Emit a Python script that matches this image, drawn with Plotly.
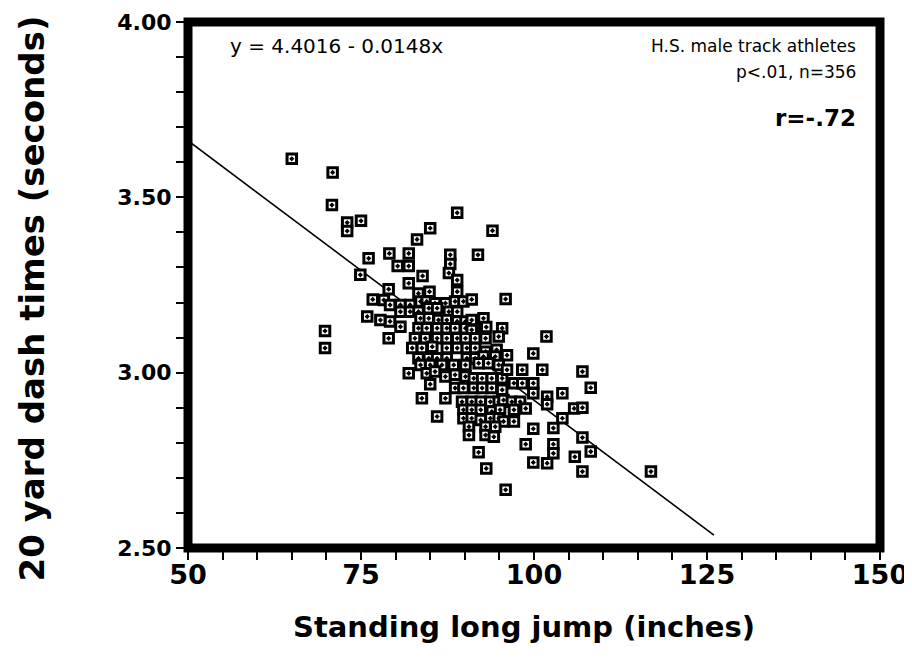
import plotly.graph_objects as go

# Standing long jump (inches) and 20 yard dash time (seconds)
jump_in = [
    65.0, 70.9, 70.8, 73.0, 75.0, 73.0, 69.8, 69.8, 74.9, 76.1, 75.9, 76.7, 78.3, 77.8,
    83.1, 85.0, 88.9, 94.0, 79.1, 81.9, 80.3, 81.9, 87.9, 87.9, 87.7, 91.9, 83.9, 81.9, 88.9, 88.9, 79.0, 84.9, 83.3, 95.9,
    79.2, 80.7, 82.1, 83.6, 84.5, 85.7, 87.2, 88.6, 89.8, 91.0,
    80.7, 82.1, 83.3, 84.8, 86.0, 87.7, 88.9,
    79.2, 80.7, 83.6, 84.8, 86.2, 87.4, 88.9, 90.1, 91.0, 92.7,
    83.3, 84.5, 86.0, 87.4, 88.6, 90.1, 91.0, 92.7, 95.4, 93.1,
    79.0, 82.8, 84.3, 86.0, 87.4, 88.9, 90.1, 91.5, 93.0, 94.9, 101.8,
    82.4, 83.8, 85.3, 87.4, 88.9, 90.3, 91.5, 93.0, 94.6,
    83.3, 84.8, 86.0, 87.4, 90.3, 91.5, 92.7, 94.4, 96.1, 99.9,
    83.6, 85.0, 86.7, 88.4, 90.1, 92.0, 93.4, 94.9,
    81.9, 84.5, 85.7, 87.2, 88.6, 90.1, 91.3, 92.5, 93.9, 95.4, 96.1, 98.3, 101.2, 107.0,
    85.0, 88.6, 89.8, 91.3, 92.5, 93.9, 95.4, 97.1, 98.3, 99.9, 108.2,
    83.8, 87.2, 89.6, 91.0, 92.3, 93.7, 94.9, 95.6, 96.8, 98.0, 99.9, 101.9, 104.1,
    89.8, 91.0, 92.3, 93.9, 95.1, 97.1, 98.8, 101.9, 105.8, 107.0,
    86.0, 89.8, 91.0, 92.3, 93.7, 94.9, 95.6, 97.1, 104.1,
    90.6, 93.0, 94.4, 99.9, 102.8,
    90.6, 93.0, 94.2, 107.0,
    98.8, 102.8, 102.8, 92.0, 108.2, 105.9, 99.9, 101.9, 93.1, 107.0, 116.9, 95.9,
]
dash_s = [
    3.610, 3.571, 3.478, 3.428, 3.433, 3.404, 3.119, 3.070, 3.279, 3.326, 3.160, 3.209, 3.207, 3.150,
    3.380, 3.412, 3.456, 3.405, 3.340, 3.340, 3.304, 3.304, 3.336, 3.310, 3.284, 3.336, 3.276, 3.255, 3.264, 3.231, 3.238, 3.231, 3.226, 3.210,
    3.193, 3.193, 3.193, 3.203, 3.203, 3.198, 3.198, 3.203, 3.203, 3.209,
    3.174, 3.174, 3.174, 3.184, 3.184, 3.174, 3.174,
    3.146, 3.131, 3.155, 3.155, 3.150, 3.150, 3.146, 3.146, 3.150, 3.155,
    3.127, 3.127, 3.127, 3.127, 3.127, 3.127, 3.122, 3.127, 3.127, 3.130,
    3.098, 3.098, 3.098, 3.098, 3.098, 3.098, 3.098, 3.098, 3.098, 3.103, 3.103,
    3.070, 3.070, 3.074, 3.070, 3.070, 3.070, 3.070, 3.060, 3.065,
    3.041, 3.041, 3.041, 3.041, 3.041, 3.041, 3.046, 3.046, 3.050, 3.055,
    3.022, 3.022, 3.022, 3.022, 3.022, 3.027, 3.027, 3.022,
    2.998, 2.998, 3.003, 2.989, 2.994, 2.989, 2.984, 2.984, 2.984, 2.984, 3.008, 3.008, 3.008, 3.003,
    2.967, 2.956, 2.956, 2.956, 2.956, 2.956, 2.951, 2.970, 2.970, 2.970, 2.957,
    2.927, 2.927, 2.917, 2.917, 2.917, 2.917, 2.917, 2.922, 2.917, 2.917, 2.941, 2.931, 2.941,
    2.894, 2.894, 2.894, 2.889, 2.894, 2.894, 2.898, 2.910, 2.898, 2.900,
    2.875, 2.870, 2.870, 2.865, 2.870, 2.870, 2.861, 2.861, 2.870,
    2.846, 2.846, 2.846, 2.840, 2.842,
    2.822, 2.822, 2.817, 2.815,
    2.796, 2.796, 2.770, 2.773, 2.775, 2.760, 2.744, 2.742, 2.727, 2.718, 2.718, 2.666,
]

# Regression line y = 4.4016 - 0.0148x
intercept = 4.4016
slope = -0.0148
line_x = [50, 126]
line_y = [intercept + slope * v for v in line_x]

x_ticks = [50, 75, 100, 125, 150]
y_ticks = [2.5, 3.0, 3.5, 4.0]
y_tick_text = ["2.50", "3.00", "3.50", "4.00"]

fig = go.Figure()
fig.add_trace(go.Scatter(
    x=line_x, y=line_y, mode="lines",
    line=dict(color="black", width=1.6), hoverinfo="skip",
))
fig.add_trace(go.Scatter(
    x=jump_in, y=dash_s, mode="markers",
    marker=dict(symbol="square-dot", size=9.5, color="white",
                line=dict(color="black", width=3)),
))

tick_font_y = dict(family="DejaVu Sans", size=22, color="black", weight="bold")
tick_font_x = dict(family="DejaVu Sans", size=27, color="black", weight="bold")
small_font = dict(family="DejaVu Sans", size=17, color="black")

fig.update_layout(
    width=912, height=667,
    margin=dict(l=180, r=40, t=14, b=127, autoexpand=False),
    paper_bgcolor="white", plot_bgcolor="white",
    showlegend=False,
    xaxis=dict(
        range=[50, 150], showgrid=False, zeroline=False, showline=False,
        tickmode="array", tickvals=x_ticks, ticktext=[str(v) for v in x_ticks],
        ticks="outside", ticklen=11, tickwidth=1.6, tickcolor="black",
        minor=dict(dtick=5, ticks="outside", ticklen=11, tickwidth=1.6, tickcolor="black"),
        tickfont=tick_font_x, ticklabelstandoff=-8,
    ),
    yaxis=dict(
        range=[2.5, 4.0], showgrid=False, zeroline=False, showline=False,
        tickmode="array", tickvals=y_ticks, ticktext=y_tick_text,
        ticks="outside", ticklen=11, tickwidth=1.6, tickcolor="black",
        minor=dict(dtick=0.1, ticks="outside", ticklen=11, tickwidth=1.6, tickcolor="black"),
        tickfont=tick_font_y,
    ),
    shapes=[dict(type="rect", xref="paper", yref="paper", x0=0, x1=1, y0=0, y1=1,
                 line=dict(color="black", width=9), layer="above")],
    annotations=[
        dict(text="Standing long jump (inches)", xref="paper", yref="paper", x=0.485, y=-0.15,
             xanchor="center", yanchor="middle", showarrow=False,
             font=dict(family="DejaVu Sans", size=29, color="black", weight="bold")),
        dict(text="20 yard dash times (seconds)", xref="paper", yref="paper", x=-0.225, y=0.475,
             xanchor="center", yanchor="middle", showarrow=False, textangle=-90,
             font=dict(family="DejaVu Sans", size=34, color="black", weight="bold")),
        dict(text="y = 4.4016 - 0.0148x", xref="paper", yref="paper", x=0.058, y=0.954,
             xanchor="left", yanchor="middle", showarrow=False,
             font=dict(family="DejaVu Sans", size=20, color="black")),
        dict(text="H.S. male track athletes", xref="paper", yref="paper", x=0.968, y=0.954,
             xanchor="right", yanchor="middle", showarrow=False, font=small_font),
        dict(text="p<.01, n=356", xref="paper", yref="paper", x=0.968, y=0.905,
             xanchor="right", yanchor="middle", showarrow=False, font=small_font),
        dict(text="r=-.72", xref="paper", yref="paper", x=0.968, y=0.8175,
             xanchor="right", yanchor="middle", showarrow=False,
             font=dict(family="DejaVu Sans", size=23, color="black", weight="bold")),
    ],
)

fig.write_html("out.html")
